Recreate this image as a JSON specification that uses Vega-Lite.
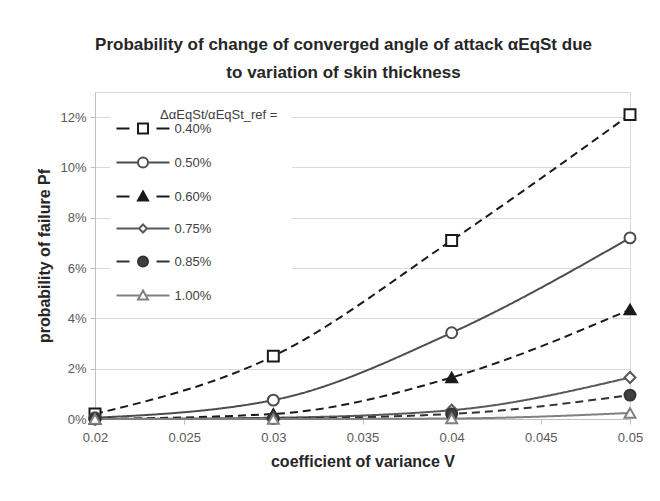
{
  "$schema": "https://vega.github.io/schema/vega-lite/v6.json",
  "width": 535,
  "height": 327,
  "autosize": {"type": "none"},
  "padding": {"left": 95, "top": 92, "right": 30, "bottom": 82},
  "background": "white",
  "title": {
    "text": ["Probability of change of converged angle of attack αEqSt due", "to variation of skin thickness"],
    "font": "Liberation Sans",
    "fontSize": 17,
    "fontWeight": "bold",
    "color": "#262626",
    "lineHeight": 28,
    "offset": 10,
    "dx": -19,
    "anchor": "middle"
  },
  "config": {
    "font": "Liberation Sans",
    "view": {"stroke": "#d9d9d9", "strokeWidth": 1}
  },
  "data": {
    "values": [
      {"V": 0.02, "series": "0.40%", "P": 0.002},
      {"V": 0.03, "series": "0.40%", "P": 0.025},
      {"V": 0.04, "series": "0.40%", "P": 0.071},
      {"V": 0.05, "series": "0.40%", "P": 0.121},
      {"V": 0.02, "series": "0.50%", "P": 0.0005},
      {"V": 0.03, "series": "0.50%", "P": 0.0075},
      {"V": 0.04, "series": "0.50%", "P": 0.0343},
      {"V": 0.05, "series": "0.50%", "P": 0.072},
      {"V": 0.02, "series": "0.60%", "P": 0.0},
      {"V": 0.03, "series": "0.60%", "P": 0.002},
      {"V": 0.04, "series": "0.60%", "P": 0.0165},
      {"V": 0.05, "series": "0.60%", "P": 0.0435},
      {"V": 0.02, "series": "0.75%", "P": 0.0},
      {"V": 0.03, "series": "0.75%", "P": 0.0005},
      {"V": 0.04, "series": "0.75%", "P": 0.0035},
      {"V": 0.05, "series": "0.75%", "P": 0.0165},
      {"V": 0.02, "series": "0.85%", "P": 0.0},
      {"V": 0.03, "series": "0.85%", "P": 0.0002},
      {"V": 0.04, "series": "0.85%", "P": 0.002},
      {"V": 0.05, "series": "0.85%", "P": 0.0095},
      {"V": 0.02, "series": "1.00%", "P": 0.0},
      {"V": 0.03, "series": "1.00%", "P": 0.0},
      {"V": 0.04, "series": "1.00%", "P": 0.0002},
      {"V": 0.05, "series": "1.00%", "P": 0.0024}
    ]
  },
  "encoding": {
    "x": {
      "field": "V",
      "type": "quantitative",
      "scale": {"domain": [0.02, 0.05], "nice": false, "zero": false},
      "axis": {
        "title": "coefficient of variance V",
        "values": [0.02, 0.025, 0.03, 0.035, 0.04, 0.045, 0.05],
        "labelExpr": "format(datum.value, '.3~f')",
        "grid": false,
        "domainColor": "#bfbfbf",
        "tickColor": "#bfbfbf",
        "tickSize": 5,
        "labelFontSize": 13,
        "labelColor": "#595959",
        "labelPadding": 7,
        "labelFlush": false,
        "titleFontSize": 16,
        "titleFontWeight": "bold",
        "titleColor": "#262626",
        "titlePadding": 9
      }
    },
    "y": {
      "field": "P",
      "type": "quantitative",
      "scale": {"domain": [0, 0.13], "nice": false},
      "axis": {
        "title": "probability of failure Pf",
        "values": [0, 0.02, 0.04, 0.06, 0.08, 0.1, 0.12],
        "format": ".0%",
        "gridColor": "#d9d9d9",
        "domainColor": "#bfbfbf",
        "tickColor": "#bfbfbf",
        "tickSize": 5,
        "labelFontSize": 13,
        "labelColor": "#595959",
        "labelPadding": 4,
        "titleFontSize": 16,
        "titleFontWeight": "bold",
        "titleColor": "#262626",
        "titlePadding": 7
      }
    }
  },
  "resolve": {
    "scale": {"shape": "independent", "fill": "independent", "stroke": "independent", "size": "independent"}
  },
  "layer": [
    {
      "mark": {"type": "line", "interpolate": "monotone", "strokeWidth": 2},
      "encoding": {
        "color": {
          "field": "series",
          "type": "nominal",
          "scale": {"domain": ["0.40%", "0.50%", "0.60%", "0.75%", "0.85%", "1.00%"], "range": ["#1a1a1a", "#4d4d4d", "#1a1a1a", "#595959", "#333333", "#808080"]},
          "legend": null
        },
        "strokeDash": {
          "field": "series",
          "type": "nominal",
          "scale": {"domain": ["0.40%", "0.50%", "0.60%", "0.75%", "0.85%", "1.00%"], "range": [[8, 5], [1, 0], [8, 5], [1, 0], [8, 5], [1, 0]]},
          "legend": null
        }
      }
    },
    {
      "mark": {"type": "point", "filled": false, "strokeWidth": 2, "opacity": 1},
      "encoding": {
        "shape": {
          "field": "series",
          "type": "nominal",
          "scale": {"domain": ["0.40%", "0.50%", "0.60%", "0.75%", "0.85%", "1.00%"], "range": ["square", "circle", "triangle-up", "diamond", "circle", "triangle-up"]},
          "legend": null
        },
        "stroke": {
          "field": "series",
          "type": "nominal",
          "scale": {"domain": ["0.40%", "0.50%", "0.60%", "0.75%", "0.85%", "1.00%"], "range": ["#1a1a1a", "#4d4d4d", "#1a1a1a", "#595959", "#333333", "#808080"]},
          "legend": null
        },
        "fill": {
          "field": "series",
          "type": "nominal",
          "scale": {"domain": ["0.40%", "0.50%", "0.60%", "0.75%", "0.85%", "1.00%"], "range": ["white", "white", "#1a1a1a", "white", "#404040", "white"]},
          "legend": null
        },
        "size": {
          "field": "series",
          "type": "nominal",
          "scale": {"domain": ["0.40%", "0.50%", "0.60%", "0.75%", "0.85%", "1.00%"], "range": [120, 120, 130, 70, 140, 130]},
          "legend": null
        }
      }
    },
    {
      "mark": {"type": "point", "filled": false, "strokeWidth": 2, "opacity": 0},
      "encoding": {
        "shape": {
          "field": "series",
          "type": "nominal",
          "scale": {"range": [
            "M-5.3,0H-2.7M2.7,0H5.3M-1,-1H1V1H-1Z",
            "M-5.3,0H-1M1,0H5.3M-1,0A1,1 0 1,0 1,0A1,1 0 1,0 -1,0Z",
            "M-5.3,0H-2.7M2.7,0H5.3M0,-1L1,0.8H-1Z",
            "M-5.3,0H-0.8M0.8,0H5.3M0,-0.8L0.8,0L0,0.8L-0.8,0Z",
            "M-5.3,0H-2.7M2.7,0H5.3M-1,0A1,1 0 1,0 1,0A1,1 0 1,0 -1,0Z",
            "M-5.3,0H-0.6M0.6,0H5.3M0,-1L1,0.8H-1Z"
          ]},
          "legend": {
            "title": "\u200b\u00a0\u00a0\u00a0\u00a0\u00a0\u00a0\u00a0\u00a0\u00a0\u00a0ΔαEqSt/αEqSt_ref =",
            "orient": "none",
            "legendX": 15,
            "legendY": 3,
            "padding": 14,
            "fillColor": "white",
            "strokeColor": null,
            "titleFontSize": 13,
            "titleFontWeight": "normal",
            "titleColor": "#404040",
            "titlePadding": 0,
            "titleLimit": 400,
            "labelFontSize": 13,
            "labelColor": "#404040",
            "symbolSize": 100,
            "symbolOffset": 12.5,
            "labelOffset": 25,
            "rowPadding": 15,
            "symbolStrokeWidth": 2,
            "symbolOpacity": 1
          }
        },
        "stroke": {
          "field": "series",
          "type": "nominal",
          "scale": {"range": ["#1a1a1a", "#4d4d4d", "#1a1a1a", "#595959", "#333333", "#808080"]}
        },
        "fill": {
          "field": "series",
          "type": "nominal",
          "scale": {"range": ["white", "white", "#1a1a1a", "white", "#404040", "white"]}
        }
      }
    }
  ]
}
